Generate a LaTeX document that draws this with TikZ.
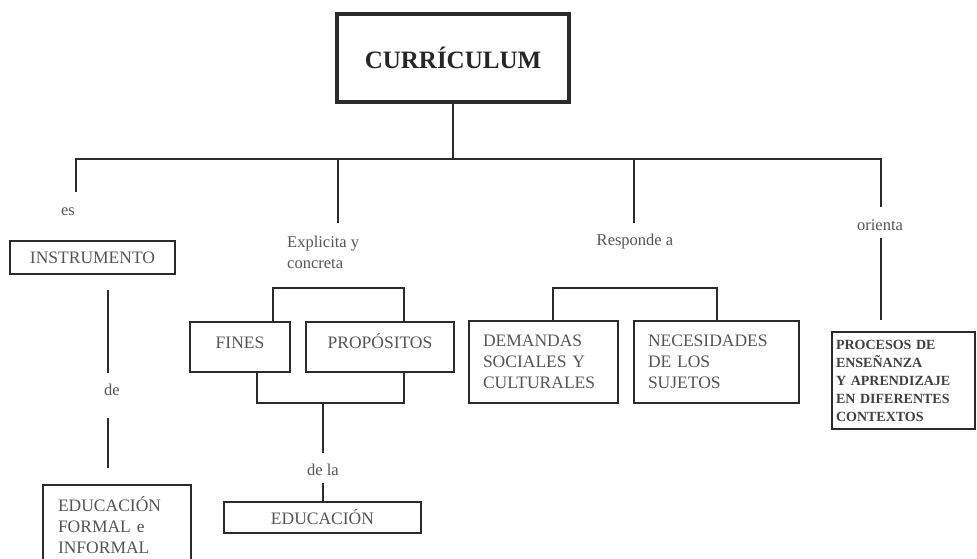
\documentclass[tikz,border=0pt]{standalone}
\usepackage{fontspec}
\setmainfont{Liberation Serif}
\definecolor{trazo}{HTML}{2B2B2B}
\definecolor{letra}{HTML}{555555}
\tikzset{
  caja/.style={draw=trazo, line width=2pt, inner sep=0pt, text=letra, font=\fontsize{17.5}{21}\selectfont},
  rotulo/.style={inner sep=0pt, text=letra, font=\fontsize{16.5}{21}\selectfont},
  linea/.style={draw=trazo, line width=2pt}
}
\begin{document}
\begin{tikzpicture}[x=1pt,y=-1pt]
\useasboundingbox[fill=white](0,0)rectangle(977,559);
\clip(0,0)rectangle(977,559);
\node[caja, line width=3.5pt, minimum width=232, minimum height=88, text=black!85, font=\bfseries\fontsize{25}{30}\selectfont](cur)at(453,58){CURRÍCULUM};
\coordinate(B)at(453,159);
\draw[linea](cur)--(B);
\coordinate(es0)at(76,192);
\coordinate(exp0)at(338,223);
\coordinate(res0)at(634,223);
\coordinate(ori0)at(881,207);
\draw[linea](es0)|-(B)-|(ori0);
\draw[linea](exp0)--(exp0|-B);
\draw[linea](res0)--(res0|-B);
\node[rotulo](es)at(68,212){es};
\node[rotulo, align=left, anchor=west](exp)at(287,252){Explicita y\\concreta};
\node[rotulo](res)at(635,242){Responde a};
\node[rotulo](ori)at(880,225){orienta};
\node[caja, minimum width=165, minimum height=33](ins)at(92.5,257.5){INSTRUMENTO};
\coordinate(de0)at(108,373);
\coordinate(de1)at(108,418);
\draw[linea, shorten <=15pt](ins.south-|de0)--(de0);
\node[rotulo](de)at(112,390){de};
\node[caja, align=left, text width=118, inner xsep=15pt, minimum height=80](efi)at(117,525){EDUCACIÓN\\FORMAL e\\INFORMAL};
\draw[linea, shorten >=16pt](de1)--(de1|-efi.north);
\node[caja, minimum width=100, minimum height=50, text height=12pt, text depth=9pt](fin)at(240,347){FINES};
\node[caja, minimum width=148, minimum height=50, text height=12pt, text depth=9pt](pro)at(380,347){PROPÓSITOS};
\draw[linea]([xshift=33pt]fin.north)--++(0,-33)-|([xshift=24pt]pro.north);
\draw[linea]([xshift=17pt]fin.south)--++(0,30)-|([xshift=24pt]pro.south);
\coordinate(fp0)at(323,402);
\coordinate(fp1)at(323,453);
\draw[linea](fp0)--(fp1);
\node[rotulo](dela)at(323,470){de la};
\node[caja, minimum width=197, minimum height=31](edu)at(322.5,517.5){EDUCACIÓN};
\coordinate(dela0)at(323,483);
\draw[linea](dela0)--(dela0|-edu.north);
\node[caja, align=left, text width=121, inner xsep=14pt, minimum height=82](dem)at(543.5,362){DEMANDAS\\SOCIALES Y\\CULTURALES};
\node[caja, align=left, text width=137, inner xsep=14pt, minimum height=82](nec)at(716.5,362){NECESIDADES\\DE LOS\\SUJETOS};
\draw[linea]([xshift=9.5pt]dem.north)--++(0,-32)-|(nec.north);
\node[caja, align=left, text width=135, inner xsep=4pt, minimum height=97, text=black!75, font=\bfseries\fontsize{14}{18}\selectfont](pen)at(903.5,380.5){PROCESOS DE\\ENSEÑANZA\\Y APRENDIZAJE\\EN DIFERENTES\\CONTEXTOS};
\coordinate(ori1)at(881,238);
\draw[linea, shorten >=11pt](ori1)--(ori1|-pen.north);
\end{tikzpicture}
\end{document}
